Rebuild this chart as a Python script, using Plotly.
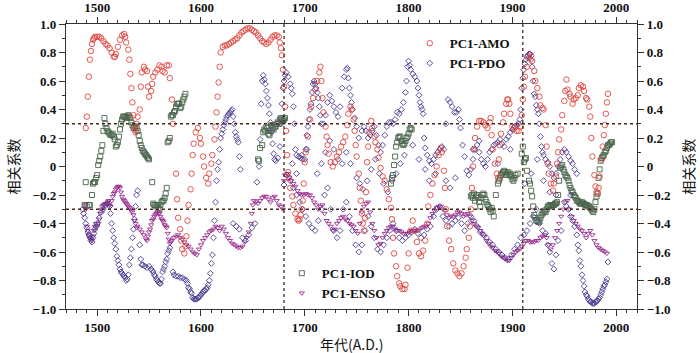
import plotly.graph_objects as go

# ---------------- data (year, correlation) ----------------
amo = [(1489,0.27),(1490,0.35),(1491,0.49),(1492,0.63),(1493,0.75),(1494,0.81),(1495,0.86),(1496,0.89),(1497,0.90),(1498,0.91),
(1500,0.91),(1502,0.91),(1504,0.90),(1506,0.88),(1508,0.86),(1510,0.85),(1512,0.83),(1514,0.80),(1516,0.77),(1517,0.77),
(1518,0.79),(1520,0.84),(1522,0.89),(1524,0.92),(1526,0.93),(1527,0.91),(1528,0.87),(1530,0.82),(1531,0.75),(1532,0.65),
(1533,0.55),(1534,0.45),(1535,0.36),(1536,0.26),(1537,0.24),(1538,0.30),(1539,0.35),(1541,0.40),(1542,0.56),(1543,0.66),
(1545,0.70),(1546,0.68),(1548,0.67),(1549,0.56),(1550,0.49),(1552,0.53),(1553,0.58),(1554,0.63),(1556,0.66),(1558,0.68),
(1560,0.71),(1562,0.70),(1563,0.67),(1565,0.66),(1567,0.71),(1569,0.71),(1570,0.62),(1572,0.47),(1573,0.30),(1576,-0.05),
(1577,-0.23),(1578,-0.36),(1580,-0.44),(1581,-0.52),(1582,-0.58),(1584,-0.61),(1585,-0.56),(1586,-0.49),(1587,-0.38),(1588,-0.27),
(1590,-0.16),(1591,-0.05),(1592,0.08),(1593,0.16),(1595,0.24),(1597,0.27),(1599,0.20),(1600,0.16),(1602,0.07),(1603,0.00),
(1605,-0.08),(1607,-0.12),(1608,-0.05),(1610,0.02),(1611,0.08),(1613,0.19),(1614,0.28),(1615,0.38),(1616,0.49),(1617,0.59),
(1618,0.70),(1619,0.80),(1621,0.84),(1623,0.85),(1625,0.85),(1627,0.86),(1629,0.87),(1631,0.88),(1633,0.89),(1635,0.90),
(1637,0.92),(1639,0.94),(1641,0.95),(1643,0.96),(1645,0.97),(1647,0.97),(1649,0.96),(1651,0.95),(1653,0.94),(1655,0.92),
(1657,0.90),(1659,0.88),(1661,0.87),(1663,0.86),(1665,0.87),(1667,0.89),(1669,0.91),(1671,0.92),(1673,0.92),(1675,0.91),
(1676,0.87),(1677,0.83),(1678,0.78),(1679,0.68),(1680,0.56),(1681,0.42),(1682,0.25),(1683,0.08),(1684,-0.04),(1685,-0.08),
(1686,-0.15),(1688,-0.21),(1689,-0.27),(1691,-0.33),(1693,-0.37),(1694,-0.38),(1695,-0.37),(1696,-0.34),(1697,-0.30),(1698,-0.24),
(1699,-0.12),(1700,0.03),(1701,0.10),(1703,0.21),(1705,0.33),(1706,0.42),(1708,0.48),(1710,0.54),(1712,0.60),(1714,0.66),
(1715,0.70),(1716,0.60),(1717,0.48),(1718,0.38),(1720,0.28),(1721,0.21),(1722,0.15),(1723,0.09),(1725,0.03),(1727,0.00),
(1729,0.03),(1731,0.07),(1733,0.10),(1735,0.14),(1737,0.17),(1739,0.21),(1741,0.29),(1742,0.37),(1744,0.42),(1745,0.40),
(1747,0.33),(1748,0.25),(1749,0.15),(1750,0.07),(1752,-0.05),(1753,-0.15),(1754,-0.24),(1755,-0.33),(1756,-0.40),(1757,-0.45),
(1758,-0.36),(1759,-0.18),(1760,0.03),(1761,0.14),(1762,0.24),(1764,0.32),(1765,0.27),(1767,0.21),(1768,0.17),(1770,0.12),
(1771,0.06),(1773,-0.01),(1775,-0.07),(1777,-0.10),(1779,-0.16),(1781,-0.23),(1783,-0.29),(1784,-0.37),(1785,-0.50),(1786,-0.61),
(1788,-0.70),(1789,-0.77),(1791,-0.82),(1792,-0.84),(1794,-0.86),(1796,-0.86),(1797,-0.83),(1799,-0.71),(1800,-0.61),(1802,-0.45),
(1804,-0.38),(1806,-0.45),(1808,-0.53),(1810,-0.61),(1812,-0.63),(1814,-0.59),(1816,-0.52),(1818,-0.40),(1819,-0.28),(1821,-0.20),
(1823,-0.12),(1825,-0.06),(1827,0.00),(1829,0.08),(1831,0.13),(1832,0.10),(1834,-0.03),(1835,-0.15),(1836,-0.30),(1837,-0.42),
(1839,-0.52),(1841,-0.58),(1843,-0.68),(1845,-0.73),(1847,-0.75),(1849,-0.77),(1851,-0.75),(1853,-0.70),(1855,-0.64),(1856,-0.58),
(1858,-0.50),(1859,-0.42),(1860,-0.30),(1861,-0.15),(1862,0.00),(1863,0.12),(1864,0.20),(1866,0.28),(1868,0.32),(1870,0.32),
(1872,0.31),(1874,0.29),(1876,0.27),(1878,0.31),(1879,0.34),(1880,0.22),(1881,0.12),(1883,0.02),(1885,-0.05),(1886,-0.08),
(1887,0.05),(1888,0.15),(1889,0.23),(1891,0.31),(1892,0.37),(1894,0.44),(1895,0.47),(1896,0.47),(1897,0.44),(1898,0.37),
(1900,0.28),(1902,0.27),(1904,0.25),(1906,0.25),(1908,0.28),(1909,0.36),(1910,0.47),(1911,0.56),(1912,0.63),(1914,0.70),
(1916,0.76),(1918,0.78),(1919,0.74),(1921,0.67),(1922,0.60),(1924,0.55),(1926,0.49),(1927,0.43),(1929,0.41),(1930,0.40),
(1932,0.29),(1933,0.14),(1934,0.02),(1935,-0.05),(1937,-0.12),(1939,-0.17),(1940,-0.12),(1942,-0.07),(1943,0.02),(1944,0.10),
(1945,0.19),(1947,0.26),(1948,0.36),(1950,0.46),(1951,0.53),(1952,0.61),(1953,0.54),(1955,0.51),(1956,0.49),(1958,0.44),
(1959,0.47),(1961,0.48),(1963,0.50),(1964,0.55),(1966,0.57),(1968,0.56),(1969,0.53),(1971,0.48),(1972,0.47),(1974,0.42),
(1975,0.35),(1976,0.20),(1977,0.07),(1979,-0.06),(1980,-0.14),(1981,-0.18),(1982,-0.19),(1983,-0.15),(1984,-0.07),(1986,0.05),
(1987,0.14),(1988,0.22),(1989,0.29),(1990,0.37),(1991,0.45),(1992,0.51)]

pdo_main = [(1486,-0.30),(1487,-0.33),(1488,-0.36),(1489,-0.40),(1490,-0.43),(1491,-0.46),(1492,-0.48),(1493,-0.50),(1494,-0.52),
(1495,-0.53),(1496,-0.50),(1497,-0.47),(1498,-0.44),(1499,-0.42),(1500,-0.40),(1502,-0.36),(1504,-0.32),(1506,-0.30),(1508,-0.27),
(1510,-0.26),(1512,-0.28),(1513,-0.33),(1514,-0.40),(1515,-0.45),(1516,-0.50),(1517,-0.54),(1518,-0.58),(1519,-0.63),(1520,-0.66),
(1521,-0.69),(1522,-0.72),(1523,-0.74),(1524,-0.75),(1525,-0.76),(1526,-0.77),(1527,-0.78),(1528,-0.80),(1529,-0.79),(1530,-0.76),
(1531,-0.69),(1532,-0.64),(1533,-0.58),(1534,-0.50),(1535,-0.44),(1536,-0.37),(1537,-0.28),(1538,-0.20),(1539,-0.17),
(1541,-0.55),(1542,-0.65),(1543,-0.69),(1544,-0.69),(1546,-0.70),(1548,-0.71),(1550,-0.70),(1552,-0.72),(1553,-0.73),(1554,-0.74),
(1555,-0.76),(1556,-0.77),(1557,-0.79),(1558,-0.80),(1559,-0.81),(1560,-0.82),(1561,-0.82),(1562,-0.79),(1563,-0.74),(1564,-0.72),
(1565,-0.70),(1566,-0.67),(1567,-0.65),(1568,-0.61),(1569,-0.59),(1570,-0.57),
(1573,-0.74),(1574,-0.76),(1576,-0.77),(1578,-0.77),(1580,-0.78),(1582,-0.78),(1584,-0.79),(1586,-0.80),(1587,-0.82),(1588,-0.85),
(1589,-0.86),(1590,-0.88),(1591,-0.89),(1592,-0.92),(1593,-0.93),(1594,-0.93),(1595,-0.93),(1596,-0.93),(1597,-0.92),(1598,-0.92),
(1599,-0.91),(1600,-0.90),(1601,-0.89),(1602,-0.88),(1603,-0.87),(1604,-0.87),(1605,-0.86),(1606,-0.85),(1607,-0.83),(1608,-0.80),
(1609,-0.75),(1610,-0.68),(1611,-0.62),(1612,-0.50),(1613,-0.38),(1614,-0.25),(1615,-0.10),(1616,-0.02),(1617,0.03),(1618,0.12),
(1619,0.20),(1620,0.23),(1621,0.26),(1622,0.29),(1623,0.31),(1624,0.33),(1625,0.35),(1626,0.36),(1627,0.37),(1628,0.38),
(1629,0.39),(1630,0.40),(1631,0.35),(1632,0.30),(1633,0.24),(1634,0.21),(1635,0.19),(1636,0.17),(1637,0.07),(1638,-0.02)]

pdo_upper = [(1654,-0.11),(1656,0.00),(1657,0.19),(1658,0.44),(1659,0.60),(1660,0.64),(1661,0.61),(1662,0.58),(1663,0.53),
(1664,0.48),(1665,0.43),(1666,0.37),(1667,0.31),(1668,0.24),(1669,0.16),(1670,0.09),(1671,0.05),(1672,0.04),(1674,0.06),
(1676,0.14),(1677,0.30),(1678,0.44),(1679,0.55),(1680,0.60),(1681,0.64),(1682,0.66),(1684,0.63),(1686,0.58),(1687,0.55),
(1688,0.51),(1689,0.42),(1690,0.30),(1691,0.12),(1692,0.08),(1694,0.07),(1696,0.06),(1698,0.05),(1700,0.05),(1701,0.12),
(1702,0.22),(1703,0.28),(1704,0.33),(1705,0.40),(1706,0.44),(1707,0.52),(1708,0.58),(1709,0.60),(1710,0.58),(1711,0.55),
(1712,0.52),(1713,0.48),(1714,0.42),(1715,0.36),(1716,0.30),(1718,0.30),(1720,0.36),(1722,0.45),(1724,0.50),(1726,0.46),
(1728,0.42),(1730,0.38),(1732,0.35),(1734,0.42),(1736,0.55),(1738,0.63),(1740,0.68),(1741,0.69),(1742,0.62),(1743,0.55),
(1744,0.50),(1745,0.45),(1746,0.40),(1748,0.34),(1750,0.28),(1752,0.20),(1755,0.25),(1757,0.28),(1759,0.25),(1761,0.20),
(1763,0.22),(1765,0.25),(1767,0.28),(1769,0.22),(1771,0.15),(1773,0.10),(1775,0.15),(1777,0.22),(1779,0.28),(1781,0.31),
(1783,0.31),(1785,0.30),(1787,0.33),(1789,0.38),(1791,0.37),(1793,0.40),(1795,0.45),(1797,0.52),(1798,0.60),(1799,0.70),
(1800,0.74),(1801,0.71),(1802,0.68),(1804,0.65),(1806,0.63),(1808,0.60),(1809,0.55),(1810,0.50),(1811,0.45),(1812,0.42),
(1813,0.40),(1814,0.37),(1815,0.20),(1816,0.13),(1818,0.08),(1820,0.04),(1822,0.02),(1824,0.05),(1826,0.08),(1828,0.10),
(1830,0.12),(1832,0.14),(1834,0.12),(1836,0.30),(1838,0.47),(1840,0.45),(1842,0.42),(1844,0.38),(1846,0.38),(1848,0.40),
(1849,0.33),(1850,0.27),(1852,0.15),(1854,0.07),(1856,-0.03),(1858,-0.06),(1860,-0.02),(1862,0.05),(1864,0.12),(1866,0.15),
(1868,0.10),(1870,0.05),(1872,0.02),(1874,0.00),(1876,0.05),(1878,0.10),(1880,0.12),(1882,0.15),(1884,0.16),(1886,0.17),
(1888,0.19),(1890,0.16),(1892,0.14),(1894,0.19),(1896,0.21),(1898,0.24),(1900,0.26),(1902,0.28),(1904,0.29),(1906,0.30),
(1907,0.33),(1908,0.40),(1909,0.55),(1910,0.62),(1911,0.68),(1912,0.72),(1913,0.75),(1914,0.77),(1915,0.78),(1916,0.79),
(1917,0.79),(1918,0.75),(1919,0.70),(1920,0.60),(1921,0.51),(1922,0.49),(1923,0.43),(1924,0.40),(1925,0.37),(1926,0.30),
(1927,0.21),(1928,0.14),(1929,0.10),(1930,0.08),(1932,0.05),(1934,0.03),(1936,0.00),(1938,-0.05),(1940,-0.08),(1942,-0.05),
(1944,0.00),(1946,0.05),(1948,0.10),(1950,0.12),(1952,0.10),(1954,0.07),(1956,0.04),(1958,0.02),(1960,-0.02),(1962,-0.05)]

pdo_lower = [(1631,-0.40),(1634,-0.42),(1637,-0.44),(1640,-0.50),(1643,-0.52),(1646,-0.48),(1649,-0.43),(1652,-0.40),
(1680,-0.13),(1683,-0.06),(1686,-0.10),(1689,-0.15),(1692,-0.20),(1695,-0.25),(1698,-0.30),(1701,-0.35),(1704,-0.40),
(1707,-0.43),(1710,-0.45),(1713,-0.38),(1716,-0.30),(1719,-0.20),(1722,-0.15),(1725,-0.30),(1728,-0.45),(1731,-0.50),
(1734,-0.45),(1737,-0.30),(1740,-0.25),(1743,-0.35),(1746,-0.45),(1749,-0.55),(1752,-0.60),(1755,-0.55),(1758,-0.45),
(1761,-0.35),(1764,-0.42),(1767,-0.50),(1770,-0.58),(1773,-0.60),(1776,-0.55),(1779,-0.50),(1782,-0.45),(1785,-0.40),
(1788,-0.45),(1791,-0.50),(1794,-0.52),(1797,-0.50),(1800,-0.48),(1803,-0.46),(1806,-0.44),(1809,-0.47),(1812,-0.50),
(1815,-0.48),(1818,-0.44),(1821,-0.42),(1824,-0.35),(1827,-0.30),(1830,-0.28),(1833,-0.35),(1836,-0.38),(1839,-0.42),
(1842,-0.40),(1845,-0.38),(1848,-0.36),(1851,-0.40),(1854,-0.45),(1857,-0.40),(1860,-0.35),(1863,-0.38),(1866,-0.42),
(1869,-0.46),(1872,-0.48),(1875,-0.50),(1878,-0.53),(1881,-0.55),(1884,-0.58),(1887,-0.60),(1890,-0.62),(1893,-0.64),
(1896,-0.65),(1899,-0.62),(1902,-0.58),(1905,-0.55),(1908,-0.50),(1911,-0.48),(1914,-0.45),(1917,-0.40),(1920,-0.35),
(1923,-0.30),(1926,-0.40),(1929,-0.45),(1932,-0.47),(1934,-0.55),(1936,-0.60),(1938,-0.68),(1940,-0.72),(1942,-0.62),
(1944,-0.52),(1947,-0.45),(1950,-0.25),(1952,-0.28),(1954,-0.30),(1956,-0.35),(1958,-0.38),(1960,-0.42),(1962,-0.48),
(1963,-0.55),(1964,-0.59),(1965,-0.66),(1966,-0.70),(1967,-0.76),(1968,-0.80),(1969,-0.84),(1970,-0.88),(1971,-0.90),
(1972,-0.91),(1973,-0.93),(1974,-0.94),(1975,-0.95),(1976,-0.95),(1977,-0.96),(1978,-0.96),(1979,-0.96),(1980,-0.95),
(1981,-0.95),(1982,-0.94),(1983,-0.93),(1984,-0.92),(1985,-0.90),(1986,-0.88),(1987,-0.86),(1988,-0.84),(1989,-0.83),
(1990,-0.81),(1991,-0.79),(1992,-0.67)]

pdo_mid = [(1688,0.02),(1692,-0.05),(1697,0.08),(1702,0.12),(1712,-0.05),(1716,0.02),(1720,0.10),(1724,0.18),(1728,0.12),
(1732,0.05),(1736,0.02),(1740,0.10),(1744,0.02),(1750,-0.08),(1753,-0.12),(1756,-0.16),(1760,-0.10),(1764,-0.02),
(1768,0.05),(1772,-0.05),(1776,-0.12),(1780,-0.18),(1784,-0.10),(1788,-0.05),(1792,0.02),(1796,0.08),(1804,0.15),
(1810,0.05),(1816,-0.02),(1820,-0.10),(1826,-0.05),(1836,-0.10),(1840,-0.15),(1845,-0.08),(1862,0.12),(1868,0.18),
(1886,0.02),(1898,0.12),(1912,-0.12),(1918,-0.05),(1924,0.05),(1930,-0.10),(1936,-0.18),(1942,-0.20),(1956,-0.20)]

iod = [(1488,-0.27),(1489,-0.11),(1490,-0.28),(1492,-0.27),(1493,-0.27),(1495,-0.20),(1496,-0.12),(1497,-0.11),(1498,-0.11),
(1499,-0.08),(1500,-0.06),(1501,0.01),(1502,0.04),(1503,0.07),(1504,0.11),(1505,0.15),(1506,0.25),(1507,0.34),(1508,0.30),
(1509,0.27),(1510,0.25),(1511,0.24),(1512,0.23),(1513,0.22),(1514,0.22),(1515,0.23),(1516,0.21),(1517,0.19),(1518,0.14),
(1519,0.15),(1520,0.17),(1521,0.21),(1522,0.26),(1523,0.30),(1524,0.33),(1525,0.35),(1526,0.35),(1527,0.35),(1528,0.34),
(1529,0.35),(1530,0.36),(1531,0.35),(1532,0.34),(1533,0.31),(1534,0.29),(1535,0.27),(1536,0.28),(1537,0.28),(1538,0.27),
(1539,0.25),(1540,0.22),(1541,0.18),(1542,0.15),(1543,0.13),(1544,0.11),(1545,0.10),(1546,0.09),(1547,0.08),(1548,0.07),
(1549,0.06),(1550,0.05),(1553,-0.11),(1554,-0.26),(1555,-0.27),(1556,-0.27),(1557,-0.28),(1558,-0.27),(1559,-0.29),
(1560,-0.30),(1561,-0.27),(1562,-0.25),(1563,-0.24),(1564,-0.24),(1565,-0.22),(1566,-0.19),(1567,-0.15),(1568,0.17),
(1569,0.18),(1570,0.20),(1571,0.35),(1572,0.36),(1573,0.36),(1574,0.38),(1575,0.39),(1576,0.42),(1577,0.44),(1578,0.44),
(1579,0.44),(1580,0.41),(1581,0.42),(1582,0.45),(1583,0.47),(1584,0.49),(1585,0.51),
(1655,0.05),(1656,0.04),(1657,0.13),(1659,0.15),(1660,0.24),(1661,0.26),(1662,0.25),(1663,0.28),(1664,0.27),(1665,0.23),
(1666,0.22),(1667,0.25),(1668,0.29),(1669,0.27),(1670,0.26),(1671,0.28),(1672,0.28),(1673,0.30),(1674,0.31),(1675,0.30),
(1676,0.33),(1677,0.34),(1678,0.33),(1679,0.32),(1680,0.33),(1681,0.34),
(1783,-0.12),(1784,-0.08),(1785,-0.06),(1786,0.01),(1787,0.07),(1788,0.14),(1789,0.17),(1790,0.20),(1791,0.21),(1792,0.21),
(1793,0.18),(1794,0.16),(1795,0.15),(1796,0.16),(1797,0.18),(1798,0.20),(1799,0.21),(1800,0.23),(1801,0.26),(1802,0.27),
(1803,0.26),
(1860,-0.21),(1861,-0.20),(1862,-0.22),(1863,-0.19),(1864,-0.24),(1865,-0.21),(1866,-0.20),(1867,-0.22),(1868,-0.25),
(1869,-0.28),(1870,-0.22),(1871,-0.20),(1872,-0.19),(1873,-0.20),(1874,-0.23),(1875,-0.25),(1876,-0.27),(1877,-0.28),
(1878,-0.30),(1879,-0.32),(1880,-0.29),(1881,-0.31),(1882,-0.35),(1884,-0.20),(1886,-0.12),(1887,-0.10),(1888,-0.08),
(1889,-0.06),(1890,-0.05),(1891,-0.04),(1892,-0.03),(1893,-0.04),(1894,-0.06),(1895,-0.05),(1896,-0.04),(1897,-0.06),
(1898,-0.05),(1899,-0.07),(1900,-0.09),(1901,-0.10),(1902,-0.08),(1903,-0.06),(1905,-0.05),(1909,0.09),(1910,0.14),
(1911,0.03),(1912,0.05),(1913,0.06),(1914,-0.03),(1916,-0.10),(1917,-0.12),(1918,-0.17),(1919,-0.21),(1920,-0.28),
(1921,-0.34),(1922,-0.36),(1923,-0.38),(1924,-0.38),(1925,-0.39),(1926,-0.38),(1927,-0.36),(1928,-0.34),(1929,-0.33),
(1930,-0.32),(1931,-0.31),(1932,-0.32),(1933,-0.30),(1934,-0.28),(1935,-0.28),(1936,-0.27),(1937,-0.27),(1938,-0.28),
(1939,-0.27),(1940,-0.27),(1941,-0.26),(1942,-0.26),(1943,-0.25),(1944,-0.20),(1945,-0.10),(1946,-0.01),(1947,0.00),
(1948,0.01),(1949,-0.02),(1950,-0.04),(1951,-0.06),(1952,-0.07),(1953,-0.08),(1954,-0.10),(1955,-0.13),(1956,-0.15),
(1957,-0.17),(1958,-0.18),(1959,-0.20),(1960,-0.21),(1961,-0.22),(1962,-0.24),(1963,-0.24),(1964,-0.25),(1965,-0.26),
(1966,-0.26),(1967,-0.25),(1968,-0.26),(1969,-0.26),(1970,-0.27),(1971,-0.27),(1972,-0.27),(1973,-0.28),(1974,-0.28),
(1975,-0.29),(1976,-0.30),(1977,-0.31),(1978,-0.32),(1979,-0.30),(1980,-0.25),(1981,-0.21),(1982,-0.19),(1983,-0.08),
(1984,-0.02),(1985,0.04),(1986,0.06),(1987,0.07),(1988,0.08),(1989,0.10),(1990,0.11),(1991,0.13),(1992,0.15),(1993,0.15),
(1994,0.16),(1995,0.17),(1996,0.17)]

enso = [(1488,-0.27),(1489,-0.30),(1490,-0.42),(1491,-0.45),(1492,-0.48),(1493,-0.50),(1494,-0.51),(1495,-0.52),(1496,-0.49),
(1497,-0.45),(1498,-0.42),(1499,-0.40),(1500,-0.42),(1501,-0.40),(1502,-0.37),(1503,-0.33),(1504,-0.30),(1505,-0.28),
(1506,-0.27),(1507,-0.27),(1508,-0.26),(1509,-0.26),(1510,-0.25),(1511,-0.24),(1512,-0.27),(1513,-0.28),(1514,-0.24),
(1515,-0.21),(1516,-0.19),(1517,-0.18),(1518,-0.16),(1519,-0.15),(1520,-0.14),(1521,-0.14),(1522,-0.15),(1523,-0.18),
(1524,-0.21),(1525,-0.23),(1526,-0.24),(1527,-0.25),(1528,-0.26),(1529,-0.27),(1530,-0.28),(1531,-0.29),(1532,-0.30),
(1533,-0.31),(1534,-0.32),(1535,-0.34),(1536,-0.38),(1537,-0.40),(1538,-0.43),(1539,-0.42),(1541,-0.44),(1543,-0.46),
(1545,-0.48),(1547,-0.51),(1548,-0.52),(1549,-0.49),(1550,-0.46),(1551,-0.44),(1552,-0.41),(1553,-0.38),(1554,-0.37),
(1555,-0.35),(1556,-0.34),(1557,-0.33),(1558,-0.32),(1559,-0.33),(1560,-0.33),(1561,-0.35),(1562,-0.37),(1563,-0.38),
(1564,-0.39),(1565,-0.41),(1566,-0.42),(1567,-0.43),(1568,-0.47),(1569,-0.51),(1570,-0.54),(1571,-0.53),(1572,-0.52),
(1574,-0.50),(1576,-0.49),(1578,-0.48),(1580,-0.50),(1582,-0.51),(1584,-0.53),(1586,-0.55),(1588,-0.56),(1590,-0.58),
(1592,-0.60),(1594,-0.61),(1596,-0.62),(1598,-0.58),(1600,-0.55),(1602,-0.52),(1604,-0.50),(1606,-0.48),(1608,-0.46),
(1610,-0.45),(1612,-0.44),(1614,-0.42),(1616,-0.43),(1618,-0.45),(1620,-0.42),(1622,-0.44),(1624,-0.47),(1626,-0.50),
(1628,-0.52),(1630,-0.54),(1632,-0.55),(1634,-0.56),(1636,-0.57),(1638,-0.57),(1640,-0.56),(1642,-0.53),(1644,-0.50),
(1646,-0.46),(1648,-0.40),(1649,-0.33),(1650,-0.27),(1651,-0.24),(1653,-0.25),(1655,-0.26),(1657,-0.24),(1659,-0.22),
(1661,-0.21),(1663,-0.21),(1665,-0.23),(1667,-0.25),(1669,-0.22),(1671,-0.21),(1673,-0.24),(1675,-0.27),(1677,-0.28),
(1679,-0.30),(1680,-0.10),(1681,-0.06),(1683,-0.05),(1685,-0.08),(1687,-0.10),(1689,-0.12),(1691,-0.14),(1693,-0.17),
(1695,-0.19),(1697,-0.20),(1699,-0.20),(1701,-0.19),(1703,-0.20),(1705,-0.20),(1707,-0.22),(1709,-0.25),(1711,-0.27),
(1713,-0.30),(1715,-0.28),(1717,-0.27),(1719,-0.33),(1721,-0.38),(1723,-0.40),(1725,-0.42),(1727,-0.45),(1729,-0.44),
(1731,-0.40),(1733,-0.38),(1735,-0.36),(1737,-0.35),(1739,-0.37),(1741,-0.38),(1743,-0.40),(1745,-0.41),(1747,-0.42),
(1749,-0.45),(1751,-0.47),(1753,-0.40),(1755,-0.32),(1757,-0.28),(1759,-0.26),(1761,-0.25),(1763,-0.32),(1765,-0.40),
(1767,-0.45),(1769,-0.50),(1771,-0.55),(1773,-0.54),(1775,-0.50),(1777,-0.47),(1779,-0.45),(1781,-0.43),(1783,-0.42),
(1785,-0.42),(1787,-0.44),(1789,-0.45),(1791,-0.45),(1793,-0.46),(1795,-0.47),(1797,-0.47),(1799,-0.47),(1801,-0.46),
(1803,-0.45),(1805,-0.45),(1807,-0.45),(1809,-0.45),(1811,-0.44),(1813,-0.43),(1815,-0.42),(1817,-0.42),(1819,-0.40),
(1821,-0.36),(1823,-0.33),(1825,-0.31),(1827,-0.29),(1829,-0.28),(1831,-0.28),(1833,-0.30),(1835,-0.31),(1837,-0.34),
(1839,-0.36),(1841,-0.35),(1843,-0.35),(1845,-0.34),(1847,-0.32),(1849,-0.32),(1851,-0.33),(1853,-0.35),(1855,-0.34),
(1857,-0.33),(1859,-0.35),(1861,-0.38),(1863,-0.40),(1865,-0.42),(1867,-0.43),(1869,-0.45),(1871,-0.47),(1873,-0.49),
(1875,-0.52),(1877,-0.54),(1879,-0.56),(1881,-0.57),(1883,-0.59),(1885,-0.60),(1887,-0.61),(1889,-0.63),(1891,-0.64),
(1893,-0.65),(1895,-0.66),(1897,-0.66),(1899,-0.64),(1901,-0.62),(1903,-0.60),(1905,-0.59),(1907,-0.58),(1909,-0.56),
(1911,-0.54),(1913,-0.52),(1915,-0.52),(1917,-0.53),(1919,-0.53),(1921,-0.53),(1923,-0.52),(1925,-0.52),(1927,-0.50),
(1929,-0.49),(1931,-0.48),(1933,-0.50),(1935,-0.55),(1937,-0.58),(1939,-0.55),(1941,-0.50),(1943,-0.45),(1945,-0.40),
(1947,-0.35),(1949,-0.30),(1951,-0.25),(1953,-0.24),(1955,-0.30),(1957,-0.35),(1959,-0.38),(1961,-0.40),(1963,-0.42),
(1965,-0.44),(1967,-0.45),(1969,-0.47),(1971,-0.50),(1973,-0.47),(1975,-0.45),(1977,-0.48),(1979,-0.52),(1981,-0.55),
(1983,-0.57),(1985,-0.58),(1987,-0.59),(1989,-0.60),(1991,-0.61)]

x_ticks = [1500, 1600, 1700, 1800, 1900, 2000]
y_ticks = [-1.0, -0.8, -0.6, -0.4, -0.2, 0, 0.2, 0.4, 0.6, 0.8, 1.0]
y_tick_text = ["\u22121.0", "\u22120.8", "\u22120.6", "\u22120.4", "\u22120.2", "0", "0.2", "0.4", "0.6", "0.8", "1.0"]
x_range = [1470, 2020]
y_range = [-1.0, 1.0]
ref_years = [1680, 1910]
ref_levels = [0.3, -0.3]

# ---------------- figure ----------------
SERIF = "Liberation Serif"
CJK = "Noto Sans CJK SC"

def xs(d):
    return [p[0] for p in d]

def ys(d):
    return [p[1] for p in d]

pdo = pdo_main + pdo_upper + pdo_lower + pdo_mid

fig = go.Figure()
fig.add_trace(go.Scatter(x=xs(iod), y=ys(iod), mode="markers", name="PC1-IOD", legend="legend2",
                         marker=dict(symbol="square-open", size=5, color="#486449", line=dict(width=0.9))))
fig.add_trace(go.Scatter(x=xs(enso), y=ys(enso), mode="markers", name="PC1-ENSO", legend="legend2",
                         marker=dict(symbol="triangle-down-open", size=4.5, color="#9a2f90", line=dict(width=0.9))))
fig.add_trace(go.Scatter(x=xs(pdo), y=ys(pdo), mode="markers", name="PC1-PDO", legend="legend",
                         marker=dict(symbol="diamond-open", size=4.5, color="#4b3a90", line=dict(width=0.9))))
fig.add_trace(go.Scatter(x=xs(amo), y=ys(amo), mode="markers", name="PC1-AMO", legend="legend",
                         marker=dict(symbol="circle-open", size=5.5, color="#e0443c", line=dict(width=0.9))))
# invisible trace for the top / right mirror axes
fig.add_trace(go.Scatter(x=[x_range[0]], y=[y_range[0]], xaxis="x2", yaxis="y2", mode="markers",
                         marker=dict(opacity=0), showlegend=False, hoverinfo="skip"))

dot = dict(color="#4a2a1a", width=1.3, dash="dot")
for yr in ref_years:
    fig.add_shape(type="line", xref="x", yref="y", x0=yr, x1=yr, y0=y_range[0], y1=y_range[1], line=dot)
for lv in ref_levels:
    fig.add_shape(type="line", xref="x", yref="y", x0=x_range[0], x1=x_range[1], y0=lv, y1=lv, line=dot)

tickfont = dict(family=SERIF, size=13, color="#111111", weight="bold")
common_x = dict(range=x_range, tickvals=x_ticks, ticks="outside", ticklen=6, tickwidth=1.2,
                tickcolor="#333333", showgrid=False, zeroline=False, showline=True, linecolor="#333333",
                linewidth=1.3, tickfont=tickfont, automargin=False,
                minor=dict(dtick=10, tick0=1470, ticks="outside", ticklen=3, tickcolor="#333333", showgrid=False))
common_y = dict(range=y_range, tickvals=y_ticks, ticktext=y_tick_text, ticks="outside", ticklen=6,
                tickwidth=1.2, tickcolor="#333333", showgrid=False, zeroline=False, showline=True,
                linecolor="#333333", linewidth=1.3, tickfont=tickfont, automargin=False,
                minor=dict(dtick=0.1, tick0=0, ticks="outside", ticklen=3, tickcolor="#333333", showgrid=False))

title_font = dict(family=CJK, size=14, color="#111111")
annotations = [
    dict(text="年代(A.D.)", x=0.5, y=-0.082, xref="paper", yref="paper", showarrow=False,
         xanchor="center", yanchor="top", font=title_font),
    dict(text="相关系数", x=-0.093, y=0.5, xref="paper", yref="paper", showarrow=False,
         xanchor="center", yanchor="middle", textangle=-90, font=title_font),
    dict(text="相关系数", x=1.088, y=0.5, xref="paper", yref="paper", showarrow=False,
         xanchor="center", yanchor="middle", textangle=-90, font=title_font),
]

legend_font = dict(family=SERIF, size=13, color="#111111", weight="bold")
fig.update_layout(
    width=700, height=353,
    margin=dict(l=66, r=63, t=24, b=44, autoexpand=False),
    paper_bgcolor="white", plot_bgcolor="white",
    xaxis=common_x,
    yaxis=common_y,
    xaxis2=dict(**common_x, overlaying="x", side="top", anchor="y"),
    yaxis2=dict(**common_y, overlaying="y", side="right", anchor="x"),
    annotations=annotations,
    legend=dict(x=0.602, y=0.985, xanchor="left", yanchor="top", bgcolor="rgba(0,0,0,0)",
                font=legend_font, itemwidth=30, tracegroupgap=0, traceorder="reversed"),
    legend2=dict(x=0.378, y=0.178, xanchor="left", yanchor="top", bgcolor="rgba(0,0,0,0)",
                 font=legend_font, itemwidth=30, tracegroupgap=0),
    showlegend=True,
)

fig.write_html("out.html", config={"displayModeBar": False},
               post_script="document.body.style.margin='0';")
